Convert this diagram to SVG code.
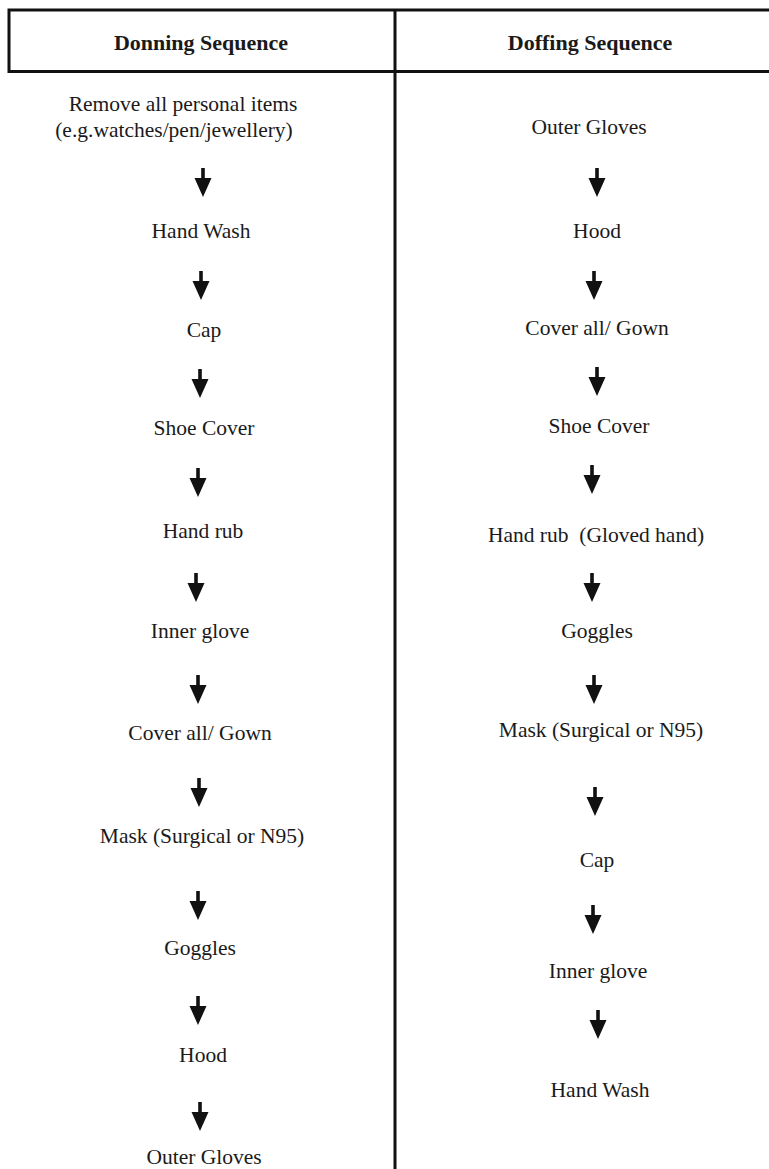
<svg xmlns="http://www.w3.org/2000/svg" width="769" height="1169" viewBox="0 0 769 1169">
<style>
.t{font-family:"Liberation Serif","Times New Roman",serif;font-size:21.5px;fill:#1a1a1a;text-anchor:middle}
.h{font-family:"Liberation Serif","Times New Roman",serif;font-size:22px;font-weight:bold;fill:#1a1a1a;text-anchor:middle}
.ln{stroke:#111;stroke-width:3;fill:none}
.ar{fill:#111}
</style>
<defs>
<path id="arw" class="ar" d="M-1.8,0 H1.8 V10 H8.5 L0,29 L-8.5,10 H-1.8 Z"/>
</defs>
<rect width="769" height="1169" fill="#fff"/>
<g id="table">
<path class="ln" d="M9,10 H771 M9,71.5 H771 M9,8.5 V73 M395,8.5 V1169"/>
</g>
<g id="header-donning"><text class="h" x="201" y="50">Donning Sequence</text></g>
<g id="header-doffing"><text class="h" x="590" y="50">Doffing Sequence</text></g>

<g id="don-1"><text class="t" x="183" y="111">Remove all personal items</text><text class="t" x="174" y="137">(e.g.watches/pen/jewellery)</text></g>
<g id="don-2"><text class="t" x="201" y="238">Hand Wash</text></g>
<g id="don-3"><text class="t" x="204" y="337">Cap</text></g>
<g id="don-4"><text class="t" x="204" y="435">Shoe Cover</text></g>
<g id="don-5"><text class="t" x="203" y="538">Hand rub</text></g>
<g id="don-6"><text class="t" x="200" y="638">Inner glove</text></g>
<g id="don-7"><text class="t" x="200" y="740">Cover all/ Gown</text></g>
<g id="don-8"><text class="t" x="202" y="843">Mask (Surgical or N95)</text></g>
<g id="don-9"><text class="t" x="200" y="955">Goggles</text></g>
<g id="don-10"><text class="t" x="203" y="1062">Hood</text></g>
<g id="don-11"><text class="t" x="204" y="1164">Outer Gloves</text></g>

<g id="dof-1"><text class="t" x="589" y="134">Outer Gloves</text></g>
<g id="dof-2"><text class="t" x="597" y="238">Hood</text></g>
<g id="dof-3"><text class="t" x="597" y="335">Cover all/ Gown</text></g>
<g id="dof-4"><text class="t" x="599" y="433">Shoe Cover</text></g>
<g id="dof-5"><text class="t" x="596" y="542" xml:space="preserve">Hand rub  (Gloved hand)</text></g>
<g id="dof-6"><text class="t" x="597" y="638">Goggles</text></g>
<g id="dof-7"><text class="t" x="601" y="737">Mask (Surgical or N95)</text></g>
<g id="dof-8"><text class="t" x="597" y="867">Cap</text></g>
<g id="dof-9"><text class="t" x="598" y="978">Inner glove</text></g>
<g id="dof-10"><text class="t" x="600" y="1097">Hand Wash</text></g>

<g id="connectors">
<use href="#arw" x="203" y="168"/>
<use href="#arw" x="201" y="271"/>
<use href="#arw" x="200" y="369"/>
<use href="#arw" x="198" y="468"/>
<use href="#arw" x="196" y="573"/>
<use href="#arw" x="198" y="675"/>
<use href="#arw" x="199" y="778"/>
<use href="#arw" x="198" y="891"/>
<use href="#arw" x="198" y="996"/>
<use href="#arw" x="200" y="1102"/>
<use href="#arw" x="597" y="168"/>
<use href="#arw" x="594" y="271"/>
<use href="#arw" x="597" y="367"/>
<use href="#arw" x="592" y="465"/>
<use href="#arw" x="592" y="573"/>
<use href="#arw" x="594" y="675"/>
<use href="#arw" x="595" y="787"/>
<use href="#arw" x="593" y="905"/>
<use href="#arw" x="598" y="1010"/>
</g>
</svg>
